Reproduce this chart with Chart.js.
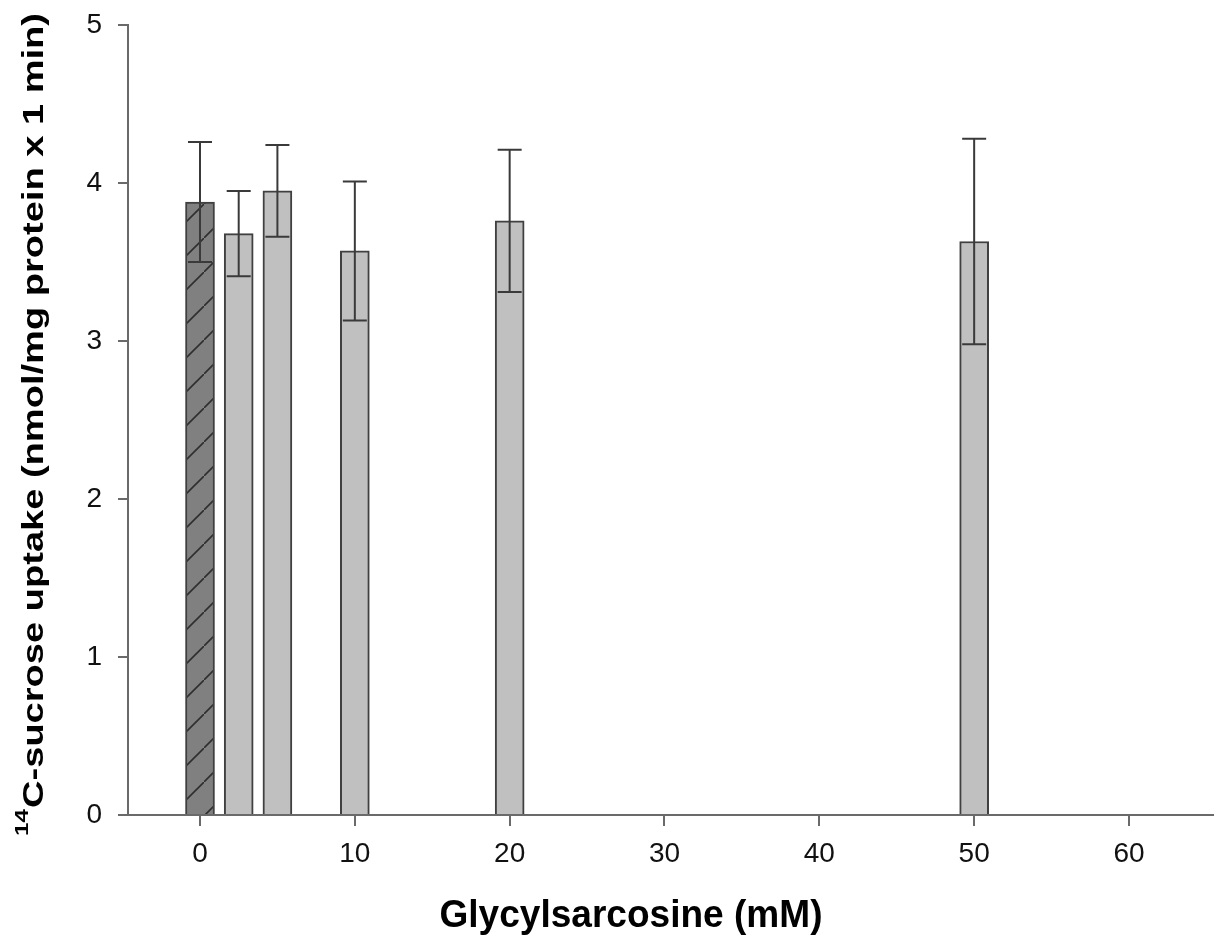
<!DOCTYPE html>
<html><head><meta charset="utf-8">
<style>html,body{margin:0;padding:0;background:#fff;}#wrap{width:1214px;height:937px;position:relative;}</style>
<script src="https://cdn.jsdelivr.net/npm/chart.js@4.4.1/dist/chart.umd.min.js"></script>
</head><body><div id="wrap"><canvas id="c"></canvas></div>
<script>
const concentrations = [0, 2.5, 5, 10, 20, 50];
const uptake = [3.88, 3.68, 3.95, 3.57, 3.76, 3.63];
const uptakeErr = [0.38, 0.27, 0.29, 0.44, 0.45, 0.65];
const xTicks = [0, 10, 20, 30, 40, 50, 60];
const yTicks = [0, 1, 2, 3, 4, 5];
const xTitle = 'Glycylsarcosine (mM)';
const yTitleSup = '14';
const yTitleMain = 'C-sucrose uptake (nmol/mg protein x 1 min)';

const FONT = '"Liberation Sans", Arial, sans-serif';
const AXIS = '#6a6a6a';

function hatch() {
  const n = 34;
  const c = document.createElement('canvas'); c.width = n; c.height = n;
  const g = c.getContext('2d');
  g.fillStyle = '#808080'; g.fillRect(0, 0, n, n);
  g.strokeStyle = '#2e2e2e'; g.lineWidth = 1.6;
  g.beginPath(); g.moveTo(-2, n + 2); g.lineTo(n + 2, -2); g.stroke();
  return g.createPattern(c, 'repeat');
}

const fills = concentrations.map((v, i) => i === 0 ? hatch() : '#c0c0c0');

const errorBars = {
  id: 'errorBars',
  afterDatasetsDraw(chart) {
    const { ctx, scales: { y } } = chart;
    const meta = chart.getDatasetMeta(0);
    ctx.save();
    ctx.strokeStyle = '#3a3a3a'; ctx.lineWidth = 2;
    concentrations.forEach((c, i) => {
      const px = meta.data[i].x;
      const top = y.getPixelForValue(uptake[i] + uptakeErr[i]);
      const bot = y.getPixelForValue(uptake[i] - uptakeErr[i]);
      ctx.beginPath();
      ctx.moveTo(px, top); ctx.lineTo(px, bot);
      ctx.moveTo(px - 12, top); ctx.lineTo(px + 12, top);
      ctx.moveTo(px - 12, bot); ctx.lineTo(px + 12, bot);
      ctx.stroke();
    });
    ctx.restore();
  }
};

const titles = {
  id: 'titles',
  afterDraw(chart) {
    const ctx = chart.ctx;
    ctx.save();
    ctx.fillStyle = '#000';
    ctx.font = 'bold 34px ' + FONT;
    const w = ctx.measureText(xTitle).width;
    ctx.translate(631, 927);
    ctx.scale(383 / w, 1.12);
    ctx.textAlign = 'center'; ctx.textBaseline = 'alphabetic';
    ctx.fillText(xTitle, 0, 0);
    ctx.restore();

    ctx.save();
    ctx.fillStyle = '#000';
    ctx.translate(43, 836);
    ctx.rotate(-Math.PI / 2);
    ctx.font = 'bold 19px ' + FONT;
    const ws = ctx.measureText(yTitleSup).width;
    ctx.font = 'bold 30px ' + FONT;
    const wm = ctx.measureText(yTitleMain).width;
    ctx.scale(823 / (ws + wm + 1), 1);
    ctx.textAlign = 'left'; ctx.textBaseline = 'alphabetic';
    ctx.font = 'bold 19px ' + FONT;
    ctx.fillText(yTitleSup, 0, -15);
    ctx.font = 'bold 30px ' + FONT;
    ctx.fillText(yTitleMain, ws + 1, 0);
    ctx.restore();
  }
};

new Chart(document.getElementById('c'), {
  type: 'bar',
  data: {
    datasets: [{
      data: concentrations.map((x, i) => ({ x: x, y: uptake[i] })),
      backgroundColor: fills,
      borderColor: '#404040',
      borderWidth: 2,
      borderSkipped: 'start',
      barThickness: 29
    }]
  },
  options: {
    responsive: true,
    maintainAspectRatio: false,
    animation: false,
    layout: { padding: { top: 25, left: 0, right: 0, bottom: 0 } },
    plugins: { legend: { display: false }, tooltip: { enabled: false } },
    scales: {
      x: {
        type: 'linear', min: -4.65, max: 65.49, offset: false,
        afterBuildTicks: s => { s.ticks = xTicks.map(v => ({ value: v })); },
        grid: { display: true, offset: false, drawOnChartArea: false, drawTicks: true, tickLength: 11, color: AXIS, lineWidth: 2 },
        border: { display: true, color: AXIS, width: 2 },
        ticks: { font: { family: FONT, size: 28 }, color: '#111', padding: 11, maxRotation: 0, autoSkip: false },
        afterFit: s => { s.height = 122; s.paddingLeft = 0; s.paddingRight = 0; }
      },
      y: {
        type: 'linear', min: 0, max: 5,
        afterBuildTicks: s => { s.ticks = yTicks.map(v => ({ value: v })); },
        grid: { display: true, offset: false, drawOnChartArea: false, drawTicks: true, tickLength: 10, color: AXIS, lineWidth: 2 },
        border: { display: true, color: AXIS, width: 2 },
        ticks: { font: { family: FONT, size: 28 }, color: '#111', padding: 16 },
        afterFit: s => { s.width = 128; s.paddingTop = 0; s.paddingBottom = 0; }
      }
    }
  },
  plugins: [errorBars, titles]
});
</script></body></html>
